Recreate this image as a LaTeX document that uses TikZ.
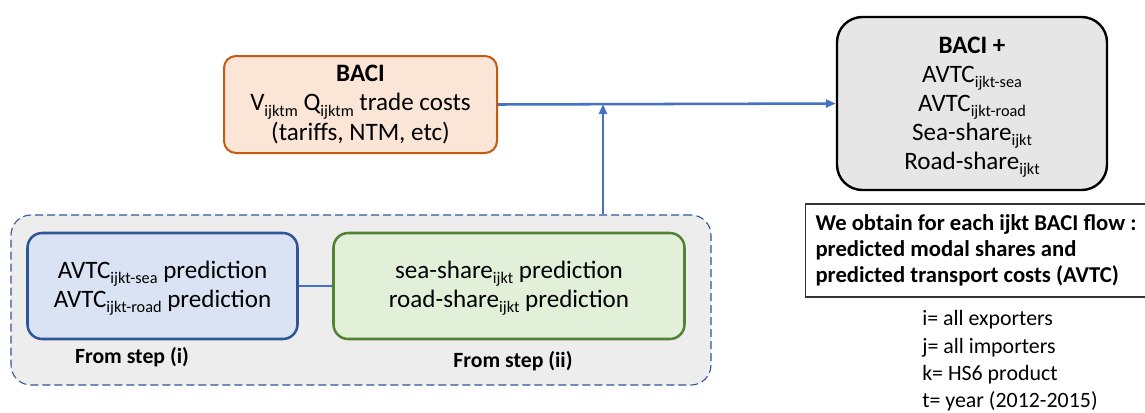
\documentclass[tikz,border=0pt]{standalone}
\usepackage{fontspec}
\setmainfont{Carlito}
\usetikzlibrary{arrows.meta,positioning,calc}
\definecolor{baciorange}{RGB}{197,90,17}
\definecolor{bacifill}{RGB}{251,229,214}
\definecolor{stepblue}{RGB}{47,85,151}
\definecolor{stepbluefill}{RGB}{218,227,243}
\definecolor{stepgreen}{RGB}{84,130,53}
\definecolor{stepgreenfill}{RGB}{226,240,217}
\definecolor{flowblue}{RGB}{68,114,196}
\definecolor{outerfill}{RGB}{237,237,237}
\definecolor{resultfill}{RGB}{231,230,230}
\newcommand{\sbs}[1]{\raisebox{-3.8pt}[0pt][0pt]{\fontsize{12.2}{12}\selectfont #1}}

\begin{document}
\begin{tikzpicture}[
    x=0.75pt,y=-0.75pt,
    box/.style={rounded corners=11pt,align=center,inner sep=0pt,font=\fontsize{18.8}{21.8}\selectfont},
    flow/.style={-{Triangle[length=7.5pt,width=6pt]},flowblue,line width=1.9pt},
    link/.style={flowblue,line width=1.9pt},
    steplabel/.style={font=\fontsize{16.3}{19}\selectfont\bfseries}
]
    \useasboundingbox (0,0) rectangle (1145,412);

    % Input data
    \node[box,draw=baciorange,fill=bacifill,line width=1.5pt,rounded corners=9pt,
          minimum width=204.75pt,minimum height=72.75pt] (baci) at (360.5,104.5)
        {\textbf{BACI}\\V\sbs{ijktm} Q\sbs{ijktm} trade costs\\(tariffs, NTM, etc)};

    % Augmented data
    \node[box,draw=black,fill=resultfill,line width=1.8pt,rounded corners=19pt,
          minimum width=202.5pt,minimum height=129.75pt] (bacip) at (972,103.5)
        {\textbf{BACI +}\\AVTC\sbs{ijkt-sea}\\AVTC\sbs{ijkt-road}\\Sea-share\sbs{ijkt}\\Road-share\sbs{ijkt}};

    % Predictions from the two steps
    \node[draw=stepblue,fill=outerfill,dash pattern=on 6pt off 3pt,line width=0.8pt,rounded corners=15pt,
          minimum width=525pt,minimum height=127.5pt,inner sep=0pt] (steps) at (361,300) {};
    \node[box,draw=stepblue,fill=stepbluefill,line width=1.9pt,
          minimum width=202.5pt,minimum height=79.5pt] (avtc) at (162.5,286)
        {AVTC\sbs{ijkt-sea} prediction\\AVTC\sbs{ijkt-road} prediction};
    \node[box,draw=stepgreen,fill=stepgreenfill,line width=1.9pt,
          minimum width=263.25pt,minimum height=79.5pt] (share) at (509,286)
        {sea-share\sbs{ijkt} prediction\\road-share\sbs{ijkt} prediction};
    \node[steplabel] (stepi) at (132,357) {From step (i)};
    \node[steplabel] (stepii) at (513,361) {From step (ii)};

    % Connectors
    \coordinate (join) at (603,104);
    \draw[link] (avtc.east) -- (share.west);
    \draw[flow] (baci.east) -- (bacip.west);
    \draw[flow] (steps.north -| join) -- (join);

    % Outcome and notation
    \node[draw=black!80,line width=0.8pt,anchor=west,align=left,inner xsep=6.75pt,
          minimum width=255.75pt,minimum height=69.75pt,
          font=\fontsize{17}{19.5}\selectfont\bfseries] (obtain) at (805,250.5)
        {We obtain for each ijkt BACI flow :\\predicted modal shares and\\predicted transport costs (AVTC)};
    \node[anchor=north west,align=left,inner sep=0pt,
          font=\fontsize{16.4}{20.4}\selectfont] (notation) at (922,310.5)
        {i= all exporters\\j= all importers\\k= HS6 product\\t= year (2012-2015)};
\end{tikzpicture}
\end{document}
